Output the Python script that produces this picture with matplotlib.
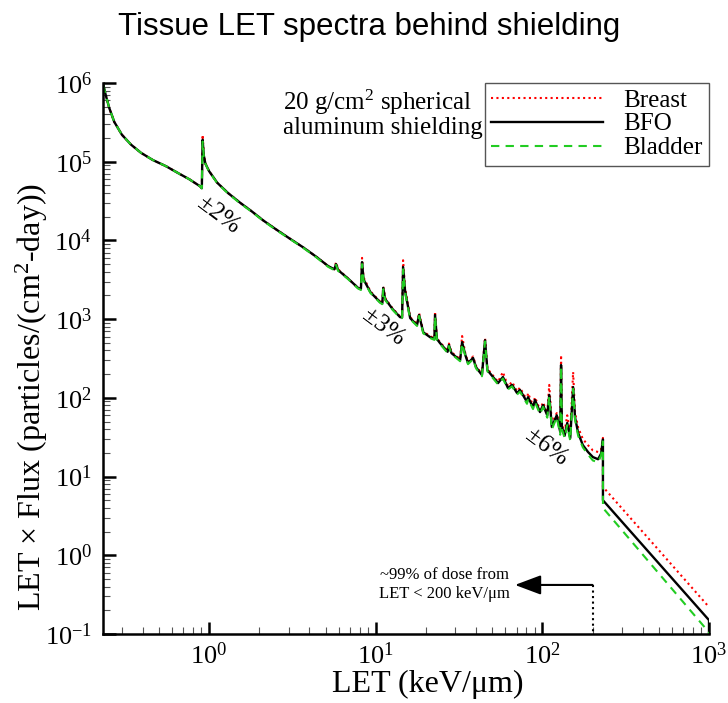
import numpy as np
import matplotlib
matplotlib.use("Agg")
import matplotlib.pyplot as plt

plt.rcParams["font.family"] = ["Liberation Serif", "DejaVu Serif"]
plt.rcParams["mathtext.fontset"] = "custom"
plt.rcParams["mathtext.rm"] = "Liberation Serif"
plt.rcParams["mathtext.it"] = "Liberation Serif:italic"
plt.rcParams["axes.unicode_minus"] = False

# LET grid (keV/um), shared by the three tissue spectra
let_vals = [
    0.232, 0.240, 0.252, 0.27, 0.30, 0.34, 0.39, 0.46, 0.55, 0.65,
    0.76, 0.88, 0.905, 0.915, 0.93, 0.95, 1.0, 1.12, 1.3, 1.54,
    1.8, 2.11, 2.5, 3.0, 3.66, 4.4, 5.2, 5.65, 5.78, 5.95,
    6.8, 7.83, 8.15, 8.28, 8.45, 9.3, 10.6, 10.95, 11.1, 11.4,
    12.6, 14.0, 14.4, 14.6, 15.0, 16.1, 17.7, 18.2, 19.3, 21.2,
    22.5, 22.7, 23.3, 24.3, 27.0, 27.5, 28.5, 32.1, 33.0, 34.5,
    35.8, 38.4, 40.0, 43.4, 45.3, 46.8, 54.2, 58.0, 62.2, 65.8,
    70.5, 73.4, 80.9, 82.0, 87.9, 90.3, 96.8, 101, 107, 110,
    114, 122, 128, 129.5, 131, 136, 141, 147, 153, 157,
    164, 175, 188, 201, 216, 225, 231, 231, 1000, 1000,
]

# LET x Flux (particles/(cm^2-day))
bfo = [
    9.5e5, 7.0e5, 4.8e5, 3.2e5, 2.2e5, 1.65e5, 1.3e5, 1.05e5, 8.8e4, 7.2e4,
    6.0e4, 4.9e4, 4.6e4, 1.9e5, 1.2e5, 9.5e4, 7.6e4, 5.4e4, 4.0e4, 3.0e4,
    2.35e4, 1.8e4, 1.4e4, 1.08e4, 8.2e3, 6.2e3, 4.7e3, 4.3e3, 5.0e3, 4.2e3,
    3.3e3, 2.5e3, 2.4e3, 5.3e3, 3.2e3, 2.2e3, 1.65e3, 1.58e3, 2.5e3, 1.8e3,
    1.35e3, 1.06e3, 1.05e3, 4.6e3, 2.3e3, 1.03e3, 840, 1130, 680, 590,
    560, 1130, 560, 497, 385, 470, 370, 300, 510, 350,
    277, 321, 245, 195, 540, 225, 154, 184, 133, 146,
    115, 126, 88.5, 102, 76, 94, 66, 81, 60, 109,
    42.6, 60, 37, 261, 42.6, 33, 48, 30.8, 137, 57,
    35.7, 25.1, 20.5, 17.7, 16.6, 19.5, 29.6, 5.0, 0.15, 0.1,
]

breast = [
    9.5e5, 7.0e5, 4.8e5, 3.2e5, 2.2e5, 1.65e5, 1.3e5, 1.05e5, 8.8e4, 7.2e4,
    6.0e4, 4.9e4, 4.6e4, 2.2e5, 1.25e5, 9.6e4, 7.6e4, 5.4e4, 4.0e4, 3.0e4,
    2.35e4, 1.8e4, 1.4e4, 1.08e4, 8.2e3, 6.2e3, 4.7e3, 4.3e3, 5.3e3, 4.3e3,
    3.3e3, 2.5e3, 2.4e3, 6.0e3, 3.4e3, 2.25e3, 1.68e3, 1.6e3, 2.6e3, 1.85e3,
    1.38e3, 1.08e3, 1.07e3, 5.6e3, 2.5e3, 1.06e3, 860, 1200, 700, 605,
    575, 1250, 575, 510, 395, 490, 380, 310, 610, 365,
    285, 335, 255, 200, 580, 235, 160, 213, 140, 160,
    121, 135, 93, 115, 80, 102, 70, 88, 64, 146,
    47, 64, 41, 350, 47, 37, 60, 35, 213, 65,
    42, 30, 25, 21.5, 20.5, 22, 31, 7.4, 0.22, 0.22,
]

bladder = [
    9.5e5, 7.0e5, 4.8e5, 3.2e5, 2.2e5, 1.65e5, 1.3e5, 1.05e5, 8.8e4, 7.2e4,
    6.0e4, 4.9e4, 4.6e4, 1.8e5, 1.18e5, 9.4e4, 7.5e4, 5.35e4, 3.95e4, 2.95e4,
    2.32e4, 1.78e4, 1.38e4, 1.07e4, 8.1e3, 6.1e3, 4.6e3, 4.2e3, 4.9e3, 4.1e3,
    3.25e3, 2.45e3, 2.35e3, 5.0e3, 3.1e3, 2.15e3, 1.62e3, 1.55e3, 2.4e3, 1.75e3,
    1.32e3, 1.04e3, 1.03e3, 4.3e3, 2.2e3, 1.0e3, 820, 1100, 660, 575,
    545, 1080, 545, 485, 372, 455, 360, 292, 490, 340,
    268, 310, 237, 188, 520, 217, 148, 176, 128, 140,
    110, 120, 84, 97, 72, 89, 62, 77, 56, 104,
    39.5, 57, 34, 250, 40, 31, 45, 28.5, 130, 53,
    33, 23.5, 19, 16, 15.2, 18.5, 28, 4.0, 0.105, 0.1,
]

dose_cut_let = 200

fig = plt.figure(figsize=(7.28, 7.03), dpi=100)
ax = fig.add_axes([103 / 728, 1 - 634 / 703, 606 / 728, 551 / 703])

ax.plot(let_vals, breast, color="red", linestyle=(0, (1, 1.6)), lw=1.5, label="Breast")
ax.plot(let_vals, bfo, color="black", linestyle="-", lw=1.7, label="BFO")
ax.plot(let_vals, bladder, color="#22cc22", linestyle=(0, (4, 3)), lw=1.5, label="Bladder")

ax.set_xscale("log")
ax.set_yscale("log")
ax.set_xlim(0.231, 1000)
ax.set_ylim(0.1, 1e6)

for side in ["top", "right"]:
    ax.spines[side].set_visible(False)
for side in ["left", "bottom"]:
    ax.spines[side].set_linewidth(1.8)

ax.tick_params(which="major", direction="in", length=9, width=1.8, labelsize=19, pad=8)
ax.tick_params(which="minor", direction="in", length=5, width=0.8, color="#555555")
ax.tick_params(axis="x", pad=6)

ax.set_xlabel("LET (keV/\u03bcm)", fontsize=23)
ax.set_ylabel("LET \u00d7 Flux (particles/(cm$^2$-day))", fontsize=23)
ax.xaxis.set_label_coords(0.536, -0.065)
ax.yaxis.set_label_coords(-0.088, 0.43)

fig.text(0.507, 1 - 27 / 703, "Tissue LET spectra behind shielding",
         family="Liberation Sans", fontsize=22.5, ha="center", va="center")

leg = ax.legend(loc="upper right", bbox_to_anchor=(1.0, 1.0), borderaxespad=0,
                fontsize=18, handlelength=4.5, handletextpad=0.8, labelspacing=0.05,
                borderpad=0.25, fancybox=False, edgecolor="#555555", framealpha=1)
leg.get_frame().set_linewidth(1.0)

ax.text(0.297, 0.945, "20 g/cm$^2$ spherical\naluminum shielding", transform=ax.transAxes,
        fontsize=18, ha="left", va="center", linespacing=0.95)

ax.text(1.13, 2.1e4, "\u00b12%", fontsize=18, rotation=-37, ha="center", va="center")
ax.text(11.1, 794, "\u00b13%", fontsize=18, rotation=-37, ha="center", va="center")
ax.text(105, 23.7, "\u00b16%", fontsize=18, rotation=-37, ha="center", va="center")

# dose cut-off marker
ax.plot([dose_cut_let, dose_cut_let], [0.42, 0.1], color="black", linestyle=":", lw=1.5)
ax.annotate("", xy=(68.5, 0.42), xytext=(dose_cut_let, 0.42),
            arrowprops=dict(arrowstyle="-|>,head_length=0.8,head_width=0.3",
                            color="black", lw=1.5, mutation_scale=20,
                            shrinkA=0, shrinkB=0))
ax.text(25.8, 0.42, "~99% of dose from\nLET < 200 keV/\u03bcm", fontsize=12,
        ha="center", va="center", linespacing=1.25)

fig.savefig("out.png", dpi=100)
